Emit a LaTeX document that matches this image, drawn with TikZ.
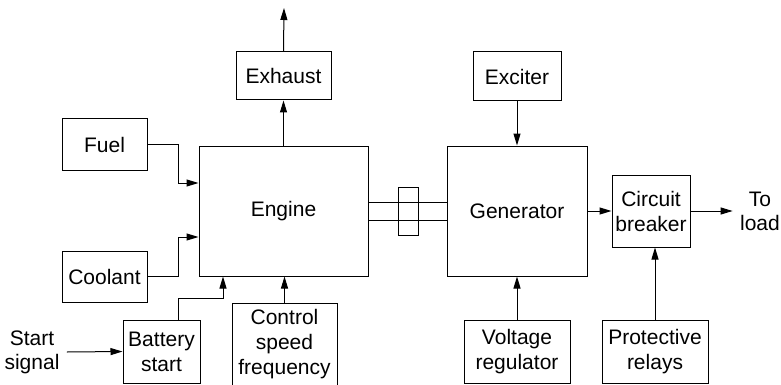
\documentclass[tikz,border=0pt]{standalone}
\usepackage{fontspec}
\setmainfont{Liberation Sans}
\usetikzlibrary{arrows.meta,positioning,calc}

\begin{document}
\begin{tikzpicture}[x=1pt,y=-1pt,line width=1pt,
	blk/.style={draw,inner sep=0pt,align=center,font=\fontsize{21}{25}\selectfont},
	txt/.style={inner sep=7pt,align=center,font=\fontsize{21}{24}\selectfont},
	arr/.style={-{Triangle[length=12pt,width=7pt]}}
	]
	\useasboundingbox (0,0) rectangle (781,385);
	% blocks
	\node[blk,minimum width=95pt,minimum height=48pt] (exhaust) at (283.5,76) {Exhaust};
	\node[blk,minimum width=88pt,minimum height=49pt] (exciter) at (517,76.5) {Exciter};
	\node[blk,minimum width=85pt,minimum height=51pt] (fuel) at (104.5,144.5) {Fuel};
	\node[blk,minimum width=85pt,minimum height=51pt] (coolant) at (104.5,276.5) {Coolant};
	\node[blk,minimum width=169pt,minimum height=130pt] (engine) at (283.5,211) {Engine};
	\node[blk,minimum width=140pt,minimum height=130pt] (generator) at (517,211) {Generator};
	\node[blk,minimum width=78pt,minimum height=72pt] (breaker) at (651,211) {Circuit\\breaker};
	\node[blk,minimum width=77pt,minimum height=63pt] (battery) at (161.5,351.5) {Battery\\start};
	\node[blk,minimum width=105pt,minimum height=83pt] (control) at (284.5,344.5) {Control\\speed\\frequency};
	\node[blk,minimum width=106pt,minimum height=63pt] (voltage) at (517,351.5) {Voltage\\regulator};
	\node[blk,minimum width=106pt,minimum height=63pt] (relays) at (655,351.5) {Protective\\relays};
	\node[txt] (start) at (32,352) {Start\\signal};
	\node[txt] (load) at (760,211) {To\\load};
	\coordinate (stack) at (284,8);
	% shaft and coupling
	\draw (engine.east |- 0,202) -- (generator.west |- 0,202);
	\draw (engine.east |- 0,220) -- (generator.west |- 0,220);
	\node[draw,minimum width=20pt,minimum height=48pt] (coupling) at (408,211) {};
	% connectors
	\draw[arr] (exhaust.north) -- (stack);
	\draw[arr] (engine.north) -- (exhaust.south);
	\draw[arr] (exciter.south) -- (generator.north);
	\draw[arr] (fuel.east) -- ++(31,0) |- (engine.west |- 0,183);
	\draw[arr] (coolant.east) -- ++(31,0) |- (engine.west |- 0,237);
	\draw[arr] (battery.north -| 178,0) |- (223,298) -- (engine.south -| 223,0);
	\draw[arr] (control.north) -- (control.north |- engine.south);
	\draw[arr] (start.east) -- (battery.west);
	\draw[arr] (voltage.north) -- (generator.south);
	\draw[arr] (generator.east) -- (breaker.west);
	\draw[arr] (breaker.east) -- (load.west);
	\draw[arr] (relays.north) -- (breaker.south -| relays.north);
\end{tikzpicture}
\end{document}
